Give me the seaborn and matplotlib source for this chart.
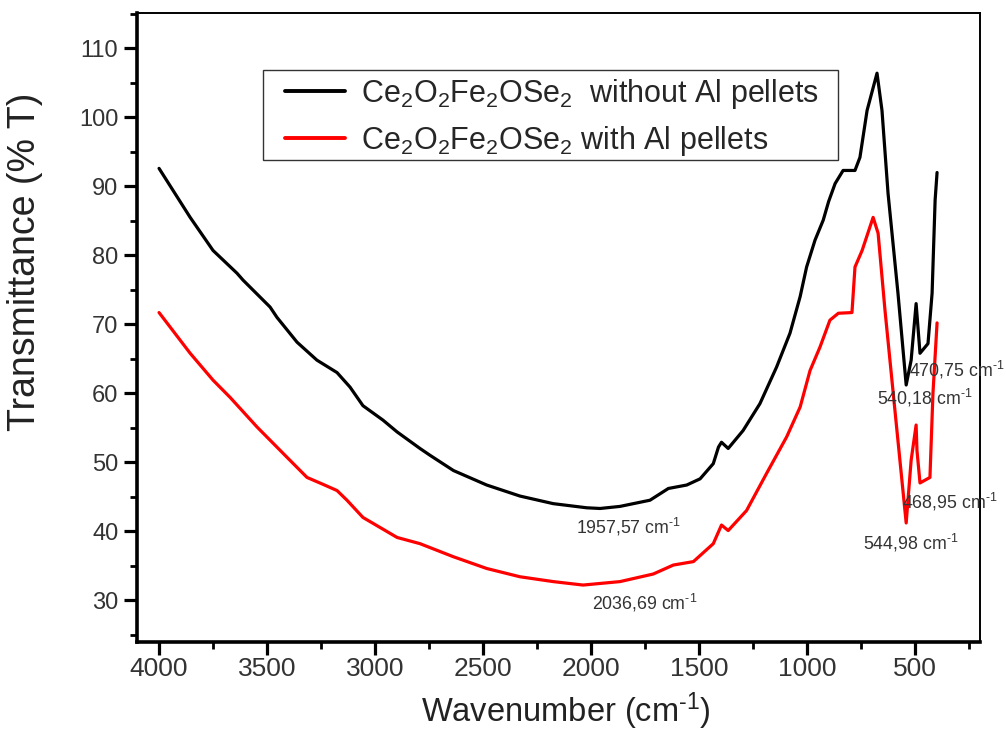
import numpy as np
import pandas as pd
import matplotlib
matplotlib.use("Agg")
import matplotlib.pyplot as plt
from matplotlib.ticker import MultipleLocator
from matplotlib.patches import Rectangle
import seaborn as sns

# ---- data (wavenumber cm^-1, transmittance %) ----
wn_black = [4000, 3856, 3750, 3639, 3611, 3486, 3454, 3361, 3269, 3176, 3116, 3056,
            2963, 2898, 2792, 2745, 2637, 2483, 2329, 2175, 2020, 1958, 1866, 1727,
            1642, 1557, 1495, 1434, 1410, 1396, 1365, 1296, 1218, 1141, 1079, 1032,
            1002, 963, 925, 900, 870, 833, 778, 755, 722, 676, 653, 625, 579, 541,
            518, 495, 477, 440, 421, 407, 398]
t_black = [92.6, 85.5, 80.7, 77.4, 76.4, 72.5, 71.0, 67.4, 64.8, 63.0, 60.9, 58.2,
           56.1, 54.4, 52.0, 51.0, 48.8, 46.7, 45.1, 44.0, 43.4, 43.3, 43.6, 44.5,
           46.2, 46.7, 47.6, 49.8, 52.2, 52.9, 52.0, 54.6, 58.5, 63.8, 68.7, 74.0,
           78.3, 82.2, 85.1, 87.8, 90.4, 92.3, 92.3, 94.2, 101.0, 106.4, 101.0, 89.0,
           74.5, 61.2, 64.8, 73.0, 65.8, 67.2, 74.5, 88.0, 92.0]

wn_red = [4000, 3856, 3750, 3671, 3546, 3407, 3315, 3241, 3176, 3130, 3056, 2898,
          2792, 2637, 2483, 2329, 2175, 2037, 1866, 1712, 1619, 1526, 1434, 1396,
          1365, 1280, 1187, 1094, 1032, 986, 940, 894, 855, 792, 778, 745, 694, 671,
          639, 593, 541, 518, 495, 491, 477, 431, 417, 398]
t_red = [71.7, 65.8, 61.9, 59.4, 55.1, 50.7, 47.8, 46.8, 45.9, 44.5, 42.0, 39.1,
         38.2, 36.3, 34.6, 33.4, 32.7, 32.2, 32.7, 33.8, 35.1, 35.6, 38.2, 40.9,
         40.1, 43.0, 48.4, 53.7, 58.0, 63.3, 66.7, 70.6, 71.6, 71.7, 78.3, 80.7,
         85.5, 83.2, 72.0, 57.5, 41.2, 50.3, 55.4, 51.7, 47.0, 47.8, 60.0, 70.2]

label_black = r"Ce$_2$O$_2$Fe$_2$OSe$_2$  without Al pellets"
label_red = r"Ce$_2$O$_2$Fe$_2$OSe$_2$ with Al pellets"

x_ticks = [4000, 3500, 3000, 2500, 2000, 1500, 1000, 500]
y_ticks = [30, 40, 50, 60, 70, 80, 90, 100, 110]

peak_labels = ["1957,57", "2036,69", "540,18", "470,75", "468,95", "544,98"]
peak_x = [2069, 1995, 676, 530, 560, 741]
peak_y = [40.6, 29.6, 59.3, 63.4, 44.2, 38.3]

# ---- style ----
sns.set_theme(style="ticks")
plt.rcParams["font.family"] = ["Liberation Sans", "DejaVu Sans"]
plt.rcParams["mathtext.fontset"] = "custom"
plt.rcParams["mathtext.rm"] = "Liberation Sans"
plt.rcParams["mathtext.it"] = "Liberation Sans:italic"
plt.rcParams["mathtext.bf"] = "Liberation Sans:bold"
plt.rcParams["mathtext.default"] = "regular"

fig = plt.figure(figsize=(10.06, 7.31), dpi=100)
ax = fig.add_axes([0.1362, 0.1218, 0.838, 0.8600])

df_b = pd.DataFrame({"wn": wn_black, "T": t_black})
df_r = pd.DataFrame({"wn": wn_red, "T": t_red})
sns.lineplot(data=df_b, x="wn", y="T", color="black", lw=2.3, label=label_black,
             ax=ax, sort=False)
sns.lineplot(data=df_r, x="wn", y="T", color="#ff0000", lw=2.3, label=label_red,
             ax=ax, sort=False)

ax.set_xlim(4102, 199)
ax.set_ylim(23.95, 115.08)
ax.set_xticks(x_ticks)
ax.set_yticks(y_ticks)
ax.xaxis.set_minor_locator(MultipleLocator(250))
ax.yaxis.set_minor_locator(MultipleLocator(5))
ax.tick_params(which="major", length=9.5, width=2.3, direction="out", color="black")
ax.tick_params(which="minor", length=5, width=2.0, direction="out", color="black")
ax.tick_params(axis="y", which="major", labelsize=17, labelcolor="#333333", pad=4)
ax.tick_params(axis="x", which="major", labelsize=19, labelcolor="#333333", pad=1)
for lab in ax.get_xticklabels():
    lab.set_family(["Liberation Sans Narrow", "Liberation Sans"])

for side in ["left", "bottom"]:
    ax.spines[side].set_linewidth(2.6)
    ax.spines[side].set_color("black")
for side in ["top", "right"]:
    ax.spines[side].set_linewidth(1.4)
    ax.spines[side].set_color("black")

ax.set_xlabel(r"Wavenumber (cm$^{\text{-1}}$)", fontsize=23.5, color="#222222")
ax.xaxis.set_label_coords(0.509, -0.078)
ax.set_ylabel("Transmittance (% T)", fontsize=27, color="#222222")
ax.yaxis.set_label_coords(-0.112, 0.605)

for s, x, y in zip(peak_labels, peak_x, peak_y):
    ax.text(x, y, s + r" cm$^{\text{-1}}$", fontsize=12.8, color="#333333",
            ha="left", va="center")

# legend frame (box) and entries
ax.add_patch(Rectangle((0.1495, 0.7668), 0.6821, 0.1431, transform=ax.transAxes,
                       facecolor="white", edgecolor="#333333", lw=1.0, zorder=4))
leg = ax.legend(loc="upper left", bbox_to_anchor=(0.1756, 0.899), fontsize=22,
                frameon=False, handlelength=1.95, handletextpad=0.55, borderpad=0,
                labelspacing=0.42, borderaxespad=0)
leg.set_zorder(5)
for line in leg.get_lines():
    line.set_linewidth(2.8)

fig.savefig("out.png", dpi=100, facecolor="white")
